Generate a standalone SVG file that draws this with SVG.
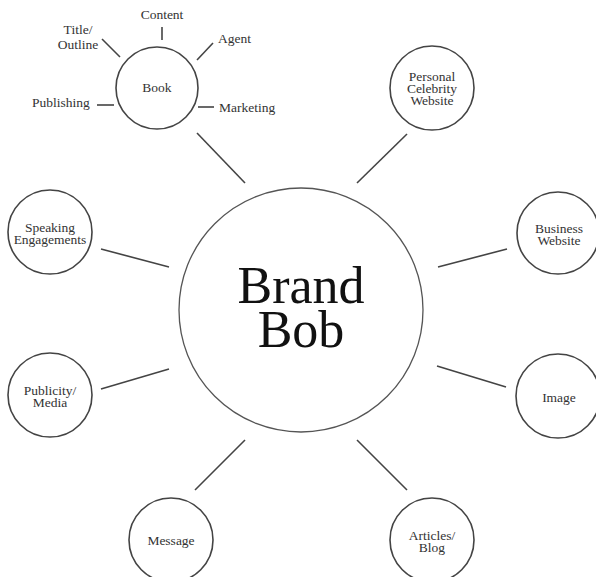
<svg xmlns="http://www.w3.org/2000/svg" width="596" height="577" viewBox="0 0 596 577">
  <style>
    .node { fill: #fff; stroke: #444; stroke-width: 1.6; }
    .hub { fill: #fff; stroke: #555; stroke-width: 1.3; }
    .link { stroke: #444; stroke-width: 1.6; fill: none; }
    .lbl { font-family: "Liberation Serif", "Times New Roman", serif; font-size: 13.5px; fill: #333; text-anchor: middle; }
    .side { font-family: "Liberation Serif", "Times New Roman", serif; font-size: 13.5px; fill: #333; }
    .big { font-family: "Liberation Serif", "Times New Roman", serif; font-size: 52px; fill: #111; text-anchor: middle; }
  </style>
  <rect width="596" height="577" fill="#fff"/>

  <g id="connectors">
    <!-- spokes from the hub -->
    <line class="link" x1="197" y1="133" x2="245" y2="183"/>
    <line class="link" x1="407" y1="134" x2="357" y2="183"/>
    <line class="link" x1="101" y1="249" x2="169" y2="267"/>
    <line class="link" x1="438" y1="267" x2="507" y2="249"/>
    <line class="link" x1="101" y1="389" x2="169" y2="369"/>
    <line class="link" x1="437" y1="366" x2="506" y2="387"/>
    <line class="link" x1="195" y1="490" x2="245" y2="440"/>
    <line class="link" x1="357" y1="440" x2="407" y2="490"/>
    <!-- ticks around Book -->
    <line class="link" x1="162" y1="27" x2="162" y2="40"/>
    <line class="link" x1="102" y1="39" x2="120" y2="57"/>
    <line class="link" x1="213" y1="43" x2="197" y2="60"/>
    <line class="link" x1="97" y1="105" x2="114" y2="105"/>
    <line class="link" x1="198" y1="107" x2="214" y2="107"/>
  </g>

  <g id="brand-bob">
    <circle class="hub" cx="301" cy="310" r="122"/>
    <text class="big" x="301" y="303">Brand</text>
    <text class="big" x="301" y="347">Bob</text>
  </g>

  <g id="book">
    <circle class="node" cx="157" cy="88" r="41"/>
    <text class="lbl" x="157" y="92">Book</text>
    <text class="lbl" x="162" y="19">Content</text>
    <text class="lbl" x="78" y="34">Title/</text>
    <text class="lbl" x="78" y="49">Outline</text>
    <text class="side" x="218" y="43">Agent</text>
    <text class="side" x="32" y="107">Publishing</text>
    <text class="side" x="219" y="112">Marketing</text>
  </g>

  <g id="personal-celebrity-website">
    <circle class="node" cx="432" cy="88" r="42"/>
    <text class="lbl" x="432" y="81">Personal</text>
    <text class="lbl" x="432" y="93">Celebrity</text>
    <text class="lbl" x="432" y="105">Website</text>
  </g>

  <g id="speaking-engagements">
    <circle class="node" cx="50" cy="232" r="42"/>
    <text class="lbl" x="50" y="232">Speaking</text>
    <text class="lbl" x="50" y="244">Engagements</text>
  </g>

  <g id="business-website">
    <circle class="node" cx="558" cy="233" r="41"/>
    <text class="lbl" x="559" y="233">Business</text>
    <text class="lbl" x="559" y="245">Website</text>
  </g>

  <g id="publicity-media">
    <circle class="node" cx="50" cy="395" r="42"/>
    <text class="lbl" x="50" y="395">Publicity/</text>
    <text class="lbl" x="50" y="407">Media</text>
  </g>

  <g id="image">
    <circle class="node" cx="558" cy="396" r="42"/>
    <text class="lbl" x="559" y="402">Image</text>
  </g>

  <g id="message">
    <circle class="node" cx="171" cy="540" r="42"/>
    <text class="lbl" x="171" y="545">Message</text>
  </g>

  <g id="articles-blog">
    <circle class="node" cx="432" cy="540" r="42"/>
    <text class="lbl" x="432" y="540">Articles/</text>
    <text class="lbl" x="432" y="552">Blog</text>
  </g>
</svg>
